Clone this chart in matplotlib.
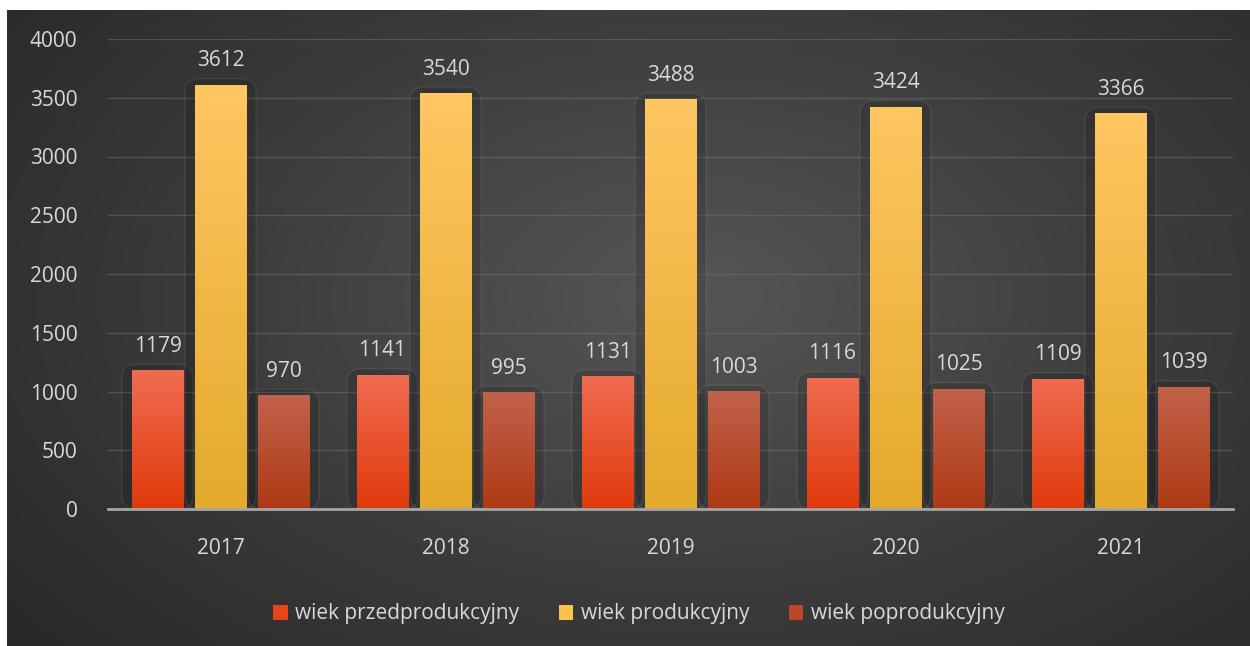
import numpy as np
import matplotlib
matplotlib.use("Agg")
import matplotlib.pyplot as plt
from matplotlib.patches import FancyBboxPatch, Patch
from matplotlib.colors import LinearSegmentedColormap

# ------------------ DATA ------------------
years = ["2017", "2018", "2019", "2020", "2021"]
series_names = ["wiek przedprodukcyjny", "wiek produkcyjny", "wiek poprodukcyjny"]
przed = [1179, 1141, 1131, 1116, 1109]
prod = [3612, 3540, 3488, 3424, 3366]
popro = [970, 995, 1003, 1025, 1039]
yticks = [0, 500, 1000, 1500, 2000, 2500, 3000, 3500, 4000]

# gradient top / bottom colours per series
grads = [("#f06c52", "#e03a0b"), ("#ffc662", "#e4aa2c"), ("#c2624b", "#ae3914")]
legend_cols = ["#e8451c", "#fcc24c", "#b9482a"]

plt.rcParams["font.family"] = ["Open Sans", "DejaVu Sans"]
TXT = "#d9d9d9"
FS = 15

fig = plt.figure(figsize=(12.5, 6.46), dpi=100)
fig.patch.set_facecolor("white")

# ------------------ BACKGROUND ------------------
bg = fig.add_axes([7 / 1250, 0, 1 - 7 / 1250, 1 - 10 / 646])
bg.set_axis_off()
yy, xx = np.mgrid[0:1:300j, 0:1:600j]
r = np.sqrt(((xx - 0.55) / 0.75) ** 2 + ((yy - 0.55) / 0.9) ** 2)
bg_cmap = LinearSegmentedColormap.from_list("bg", ["#565656", "#3c3c3c", "#262626"])
bg.imshow(np.clip(r, 0, 1), cmap=bg_cmap, vmin=0, vmax=1, aspect="auto",
          extent=[0, 1, 0, 1], origin="lower")
bg.set_xlim(0, 1)
bg.set_ylim(0, 1)

# ------------------ MAIN AXES ------------------
ax = fig.add_axes([108 / 1250, 1 - 509 / 646, 1125 / 1250, 470 / 646])
ax.patch.set_alpha(0)
ax.set_xlim(-0.5, len(years) - 0.5)
ax.set_ylim(0, 4000)

x = np.arange(len(years))
w = 0.227
off = 0.28
data = [przed, prod, popro]

# px -> data conversion for rounded shadow boxes
xpp = 1.0 / 225
ypp = 4000 / 470

for i, vals in enumerate(data):
    bars = ax.bar(x + (i - 1) * off, vals, width=w, color=grads[i][0], zorder=3)
    cmap = LinearSegmentedColormap.from_list("g%d" % i, [grads[i][1], grads[i][0]])
    for b, v in zip(bars, vals):
        bx, bw, bh = b.get_x(), b.get_width(), b.get_height()
        # shadow / outline box around the bar
        pad_x = 10 * xpp
        sh = FancyBboxPatch((bx - pad_x, 0), bw + 2 * pad_x, bh + 6 * ypp,
                            boxstyle="round,pad=0,rounding_size=%f" % (14 * xpp),
                            mutation_aspect=ypp / xpp,
                            facecolor=(0, 0, 0, 0.13), edgecolor=(1, 1, 1, 0.08),
                            linewidth=1.0, zorder=2)
        ax.add_patch(sh)
        grad = np.linspace(0, 1, 256).reshape(-1, 1)
        im = ax.imshow(grad, cmap=cmap, aspect="auto", origin="lower",
                       extent=[bx, bx + bw, 0, bh], zorder=4)
        im.set_clip_path(b)
        ax.text(b.get_x() + bw / 2, bh + 24 * ypp, str(v), ha="center", va="center",
                color=TXT, fontsize=FS, zorder=5)

ax.set_xlim(-0.5, len(years) - 0.5)
ax.set_ylim(0, 4000)

ax.set_yticks(yticks)
ax.set_yticklabels([str(t) for t in yticks])
ax.set_xticks(x)
ax.set_xticklabels(years)
ax.tick_params(axis="both", length=0, colors=TXT, labelsize=FS)
ax.tick_params(axis="y", pad=22)
ax.tick_params(axis="x", pad=21)
ax.grid(axis="y", color="#6a6a6a", linewidth=1.0, alpha=0.6, zorder=0)
for s in ["top", "right", "left"]:
    ax.spines[s].set_visible(False)
ax.spines["bottom"].set_color("#a6a6a6")
ax.spines["bottom"].set_linewidth(2)
ax.spines["bottom"].set_zorder(6)

handles = [Patch(facecolor=c, edgecolor="none") for c in legend_cols]
leg = fig.legend(handles, series_names, loc="center", bbox_to_anchor=(0.511, 1 - 614 / 646),
                 ncol=3, frameon=False, fontsize=FS, labelcolor=TXT,
                 handlelength=0.7, handleheight=0.7, handletextpad=0.35, columnspacing=1.9)

fig.savefig("out.png", dpi=100, facecolor=fig.get_facecolor())
